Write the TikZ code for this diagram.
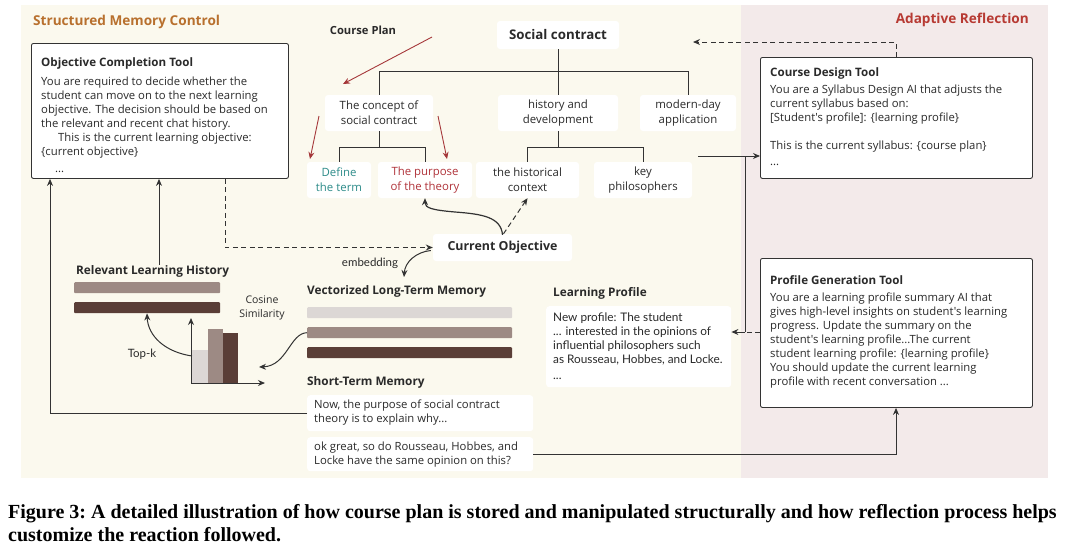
\documentclass[tikz,border=0pt]{standalone}
\usepackage{fontspec}
\setmainfont{Liberation Serif}
\newfontfamily\cf{Open Sans}
\newfontfamily\lf{Lato}
\usetikzlibrary{arrows.meta,calc}
\definecolor{ybg}{HTML}{FBF9EE}
\definecolor{pbg}{HTML}{F3EAEA}
\definecolor{barl}{HTML}{DCD7D5}
\definecolor{barm}{HTML}{9D8A84}
\definecolor{bard}{HTML}{5A3E37}
\definecolor{ttlo}{HTML}{B8702E}
\definecolor{ttlr}{HTML}{B73A33}
\definecolor{redar}{HTML}{A5383A}
\definecolor{teal1}{HTML}{2E8C8A}
\definecolor{red1}{HTML}{B0333A}
\definecolor{txt}{HTML}{2A2A2A}
\definecolor{ln}{HTML}{333333}
\tikzset{
  x=1pt,y=-1pt,
  body/.style={font=\cf\fontsize{11.3}{14}\selectfont, align=left, inner sep=0pt, anchor=north west, text=txt},
  lbody/.style={font=\lf\fontsize{11.8}{14}\selectfont, align=left, inner sep=0pt, anchor=north west, text=txt},
  ttl/.style={font=\cf\bfseries\fontsize{11.6}{13}\selectfont, inner sep=0pt, anchor=west, text=txt},
  sect/.style={font=\cf\bfseries\fontsize{11.8}{13}\selectfont, inner sep=0pt, anchor=west, text=txt},
  toolbox/.style={draw=ln, line width=0.9pt, fill=white, rounded corners=2pt, anchor=north west, inner sep=0pt},
  wbox/.style={fill=white, rounded corners=3pt, inner sep=0pt, align=center, font=\cf\fontsize{11.4}{15}\selectfont, text=txt},
  conn/.style={draw=ln, line width=1pt},
  dsh/.style={dash pattern=on 5pt off 3.5pt},
  arr/.style={conn, -{Stealth[length=7pt,width=6pt]}},
  redarr/.style={draw=redar, line width=0.9pt, -{Stealth[length=7pt,width=6pt]}},
  bar/.style={rounded corners=1pt, inner sep=0pt, anchor=north west},
}
\begin{document}
\begin{tikzpicture}
\useasboundingbox (0,0) rectangle (1068,547);
\fill[white] (0,0) rectangle (1068,547);
% panels
\fill[ybg] (21,5) rectangle (741,478);
\fill[pbg] (741,5) rectangle (1048,478);
\node[font=\cf\bfseries\fontsize{13.6}{15}\selectfont, text=ttlo, anchor=west, inner sep=0pt] (t1) at (33,22) {Structured Memory Control};
\node[font=\cf\bfseries\fontsize{13.6}{15}\selectfont, text=ttlr, anchor=east, inner sep=0pt] (t2) at (1029,20) {Adaptive Reflection};

% Objective Completion Tool
\node[toolbox, minimum width=257, minimum height=135] (oct) at (31,43) {};
\node[ttl] (octt) at (41,63) {Objective Completion Tool};
\node[body] (octb) at (41,77) {You are required to decide whether the\\student can move on to the next learning\\objective. The decision should be based on\\the relevant and recent chat history.\\\hspace*{17pt}This is the current learning objective:\\\{current objective\}\\[3pt]\hspace*{14pt}...};

% Course plan tree
\node[font=\cf\bfseries\fontsize{11.2}{12}\selectfont, text=txt, inner sep=0pt] (cp) at (363,30) {Course Plan};
\node[wbox, minimum width=122, minimum height=28, font=\cf\bfseries\fontsize{13.3}{15}\selectfont] (sc) at (558,35) {Social contract};
\node[wbox, minimum width=108, minimum height=36] (concept) at (379,113) {The concept of\\social contract};
\node[wbox, minimum width=120, minimum height=36] (hist) at (558,113) {history and\\development};
\node[wbox, minimum width=96, minimum height=36] (mod) at (688,113) {modern-day\\application};
\node[wbox, minimum width=64, minimum height=36, text=teal1] (def) at (339,180) {Define\\the term};
\node[wbox, minimum width=94, minimum height=36, text=red1] (purp) at (425,180) {The purpose\\of the theory};
\node[wbox, minimum width=103, minimum height=36] (hctx) at (527.5,180) {the historical\\context};
\node[wbox, minimum width=98, minimum height=36] (keyp) at (643,180) {key\\philosophers};
\draw[conn] (sc.south) -- (hist.north);
\draw[conn] (concept.north) -- ++(0,-23) -| (mod.north);
\draw[conn] (concept.south) -- ++(0,16) coordinate (cj) -| (def.north);
\draw[conn] (cj) -| (purp.north);
\draw[conn] (hist.south) -- ++(0,16) coordinate (hj) -| (hctx.north);
\draw[conn] (hj) -| (keyp.north);
% red arrows
\coordinate (ra1) at (432,37); \coordinate (ra1e) at (343,84);
\coordinate (ra2) at (319,116); \coordinate (ra2e) at (310,159);
\coordinate (ra3) at (438,116); \coordinate (ra3e) at (447,159);
\draw[redarr] (ra1) -- (ra1e);
\draw[redarr] (ra2) -- (ra2e);
\draw[redarr] (ra3) -- (ra3e);

% Current objective
\node[wbox, minimum width=139, minimum height=27, font=\cf\bfseries\fontsize{12.4}{14}\selectfont] (cobj) at (502.5,247.5) {Current Objective};
\draw[arr, line width=1.2pt] ($(cobj.north)+(0,1)$) .. controls (501,217) and (482,214) .. (455,212) .. controls (432,210) and (425,208) .. (purp.south);
\draw[arr, dsh] ($(cobj.north)+(1,0)$) -- (hctx.south);
\draw[arr, dsh] (oct.south -| 225,0) |- (cobj.west);
\coordinate (embE) at (404,277);
\draw[arr] ($(cobj.west)+(-2,3)$) .. controls (416,252) and (405,262) .. (embE);
\node[font=\lf\fontsize{11.5}{12}\selectfont, text=txt, inner sep=0pt] (emb) at (370,263) {embedding};

% Relevant learning history
\node[sect] (rlh) at (76,271) {Relevant Learning History};
\node[bar, fill=barm, minimum width=146, minimum height=11] (rb1) at (74,282) {};
\node[bar, fill=bard, minimum width=146, minimum height=11] (rb2) at (74,302) {};
\draw[arr] (rlh.north -| 159,0) -- (oct.south -| 159,0);
\node[font=\cf\fontsize{10.5}{14}\selectfont, text=txt, align=center, inner sep=0pt] (cos) at (262,308) {Cosine\\Similarity};

% chart
\coordinate (orig) at (191,383);
\node[inner sep=0pt, anchor=south west, fill=barl, minimum width=17, minimum height=33] (cb1) at (191,383) {};
\node[inner sep=0pt, anchor=south west, fill=barm, minimum width=15, minimum height=54] (cb2) at (208,383) {};
\node[inner sep=0pt, anchor=south west, fill=bard, minimum width=15, minimum height=50] (cb3) at (223,383) {};
\coordinate (yax) at (191,318); \coordinate (xax) at (265,383);
\draw[arr] (orig) -- (yax);
\draw[arr] (orig) -- (xax);
\draw[arr] (192,356) .. controls (165,352) and (148,336) .. (rb2.south -| 147,0);
\node[font=\lf\fontsize{11.5}{12}\selectfont, text=txt, inner sep=0pt] (topk) at (142,354) {Top-k};

% Vectorized long-term memory
\node[sect] (vlt) at (307,291) {Vectorized Long-Term Memory};
\node[bar, fill=barl, minimum width=205, minimum height=11] (vb1) at (307,307) {};
\node[bar, fill=barm, minimum width=205, minimum height=11] (vb2) at (307,327) {};
\node[bar, fill=bard, minimum width=205, minimum height=11] (vb3) at (307,347) {};
\coordinate (cosE) at (259,367);
\draw[arr] (vb2.west) .. controls (290,333) and (287,366) .. (cosE);

% Short-term memory
\node[sect] (stm) at (307,382) {Short-Term Memory};
\node[fill=white, rounded corners=3pt, anchor=north west, minimum width=226, minimum height=36, inner sep=0pt] (s1) at (307,395) {};
\node[body] (s1t) at (314,400) {Now, the purpose of social contract\\theory is to explain why...};
\node[fill=white, rounded corners=3pt, anchor=north west, minimum width=226, minimum height=34, inner sep=0pt] (s2) at (307,437) {};
\node[body] (s2t) at (314,442) {ok great, so do Rousseau, Hobbes, and\\Locke have the same opinion on this?};

% Learning profile
\node[sect] (lpt) at (553,293) {Learning Profile};
\node[fill=white, rounded corners=3pt, anchor=north west, minimum width=185, minimum height=81, inner sep=0pt] (lp) at (546,306) {};
\node[lbody] (lpb) at (553,313) {New profile: The student\\... interested in the opinions of\\influential philosophers such\\as Rousseau, Hobbes, and Locke.\\[2pt]...};

% Course design tool
\node[toolbox, minimum width=272, minimum height=121] (cdt) at (760,57) {};
\node[ttl] (cdtt) at (770,73) {Course Design Tool};
\node[body] (cdtb) at (770,85) {You are a Syllabus Design AI that adjusts the\\current syllabus based on:\\{}[Student's profile]: \{learning profile\}\\[14pt]This is the current syllabus: \{course plan\}\\[2pt]...};

% Profile generation tool
\node[toolbox, minimum width=272, minimum height=149] (pgt) at (760,258) {};
\node[ttl] (pgtt) at (770,280) {Profile Generation Tool};
\node[body] (pgtb) at (770,293) {You are a learning profile summary AI that\\gives high-level insights on student's learning\\progress. Update the summary on the\\student's learning profile...The current\\student learning profile: \{learning profile\}\\You should update the current learning\\profile with recent conversation ...};

% right connectors
\coordinate (dE) at (693,42);
\draw[arr, dsh] (cdt.north -| 896,0) |- (dE);
\coordinate (cdS) at (698,156);
\draw[arr] (cdS) -- (cdt.west |- cdS);
\coordinate (jn) at (745,332);
\draw[conn] (jn) -- (jn |- cdS);
\draw[conn, dsh] (pgt.west |- jn) -- (jn);
\draw[arr] (jn) -- (lp.east |- jn);
\draw[arr] (s2.east) -| (pgt.south -| 896,0);
\draw[arr] (s1.west |- 0,413) -| (oct.south -| 50,0);

% caption
\node[font=\bfseries\frenchspacing\fontsize{20}{21}\selectfont, anchor=west, inner sep=0pt] (cap1) at (8,514) {Figure 3: A detailed illustration of how course plan is stored and manipulated structurally and how reflection process helps};
\node[font=\bfseries\frenchspacing\fontsize{20}{21}\selectfont, anchor=west, inner sep=0pt] (cap2) at (8,535) {customize the reaction followed.};
\end{tikzpicture}
\end{document}
